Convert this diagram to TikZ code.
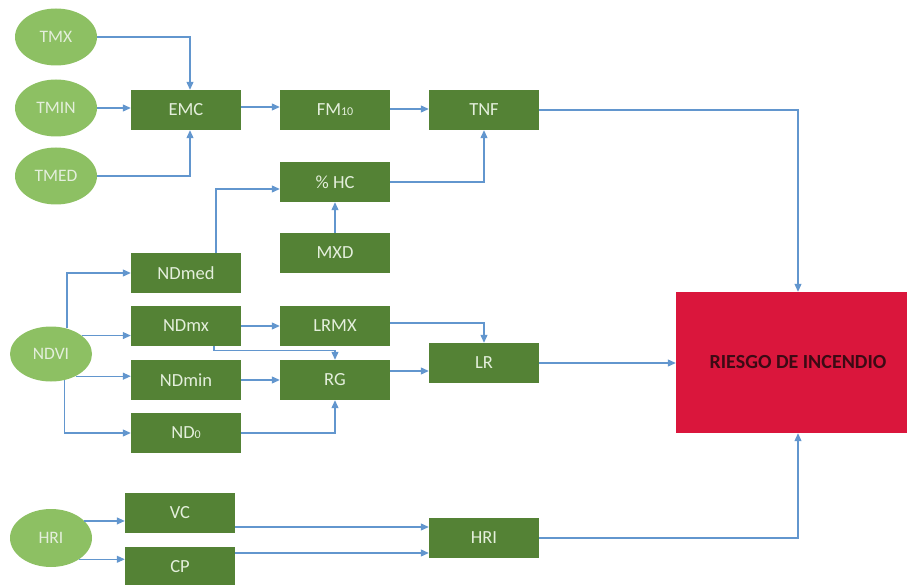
\documentclass[tikz,border=0pt]{standalone}
\usepackage{fontspec}
\setmainfont{Carlito}
\usetikzlibrary{positioning, shapes.geometric, arrows.meta, calc}

\definecolor{ovalgreen}{RGB}{141,192,99}
\definecolor{boxgreen}{RGB}{84,130,53}
\definecolor{lighttext}{RGB}{228,239,220}
\definecolor{linkblue}{RGB}{98,150,206}
\definecolor{riskred}{RGB}{218,22,60}
\definecolor{risktext}{RGB}{60,10,20}

\newcommand{\subnum}[1]{{\fontsize{12}{12}\selectfont #1}}

\begin{document}
\begin{tikzpicture}[x=1pt, y=-1pt,
    oval/.style={ellipse, fill=ovalgreen, text=lighttext, minimum width=82pt, minimum height=57pt, inner sep=0pt, font=\fontsize{17.5}{17.5}\selectfont},
    box/.style={rectangle, fill=boxgreen, text=lighttext, minimum width=110pt, minimum height=40pt, inner sep=0pt, font=\fontsize{18.5}{18.5}\selectfont},
    link/.style={-{Triangle[length=8pt, width=7pt]}, linkblue, line width=1.1pt}]
                  \useasboundingbox (0,0) rectangle (907,585);

                  % Inputs
                  \foreach \n/\t/\y in {tmx/TMX/37, tmin/TMIN/108, tmed/TMED/176}
                  \node[oval] (\n) at (56,\y) {\t};
                  \node[oval, minimum height=55pt] (ndvi) at (51,354) {NDVI};
                  \node[oval, minimum height=58pt] (hri) at (51,538) {HRI};

                  % First column
                  \node[box] (emc) at (186,110) {EMC};
                  \foreach \n/\t/\y in {ndmed/NDmed/273, ndmx/NDmx/326, ndmin/NDmin/380, nd0/ND\subnum{0}/433}
                  \node[box] (\n) at (186,\y) {\t};
                  \node[box] (vc) at (180,513) {VC};
                  \node[box] (cp) at (180,567) {CP};

                  % Second column
                  \foreach \n/\t/\y in {fm/FM\subnum{10}/110, hc/\% HC/182, mxd/MXD/253, lrmx/LRMX/326, rg/RG/380}
                  \node[box] (\n) at (335,\y) {\t};

                  % Third column
                  \node[box] (tnf) at (484,110) {TNF};
                  \node[box] (lr) at (484,363) {LR};
                  \node[box] (hribox) at (484,538) {HRI};

                  % Output
                  \node[rectangle, fill=riskred, minimum width=244pt, minimum height=141pt, text=risktext, font=\fontsize{20}{20}\selectfont\bfseries] (risk) at (798,362.5) {RIESGO DE INCENDIO};

                  % Helper points
                  \coordinate (rgout) at ($(rg.east)+(0,-9)$);
                  \coordinate (vcout) at ($(vc.east)+(0,14)$);
                  \coordinate (cpout) at ($(cp.east)+(0,-14)$);

                  % Arrows
                  \draw[link] (tmx.east) -| ($(emc.north)+(4,0)$);
                  \draw[link] (tmin.east) -- (tmin.east -| emc.west);
                  \draw[link] (tmed.east) -| ($(emc.south)+(4,0)$);
                  \draw[link] ($(emc.east)+(0,-3)$) -- ($(fm.west)+(0,-3)$);
                  \draw[link] ($(fm.east)+(0,-1)$) -- ($(tnf.west)+(0,-1)$);
                  \draw[link] (hc.east) -| (tnf.south);
                  \draw[link] (mxd.north) -- (hc.south);
                  \draw[link] ($(ndmed.north)+(30,0)$) |- ($(hc.west)+(0,7)$);

                  \draw[link] (ndvi.58) |- (ndmed.west);
                  \draw[link] (ndvi.31) -- (ndvi.31 -| ndmx.west);
                  \draw[link] (ndvi.-42) -- (ndvi.-42 -| ndmin.west);
                  \draw[link] (ndvi.-63) |- (nd0.west);

                  \draw[link] (ndmx.east) -- (lrmx.west);
                  \draw[link] ($(ndmx.south)+(28,0)$) -- ++(0,4) -| (rg.north);
                  \draw[link] (ndmin.east) -- (rg.west);
                  \draw[link] (nd0.east) -| (rg.south);
                  \draw[link] ($(lrmx.east)+(0,-3)$) -| (lr.north);
                  \draw[link] (rgout) -- (rgout -| lr.west);

                  \draw[link] (hri.27) -- (hri.27 -| vc.west);
                  \draw[link] (hri.-37) -- (hri.-37 -| cp.west);
                  \draw[link] (vcout) -- (vcout -| hribox.west);
                  \draw[link] (cpout) -- (cpout -| hribox.west);

                  \draw[link] (tnf.east) -| (risk.north);
                  \draw[link] (lr.east) -- (lr.east -| risk.west);
                  \draw[link] (hribox.east) -| (risk.south);

              \end{tikzpicture}
\end{document}
